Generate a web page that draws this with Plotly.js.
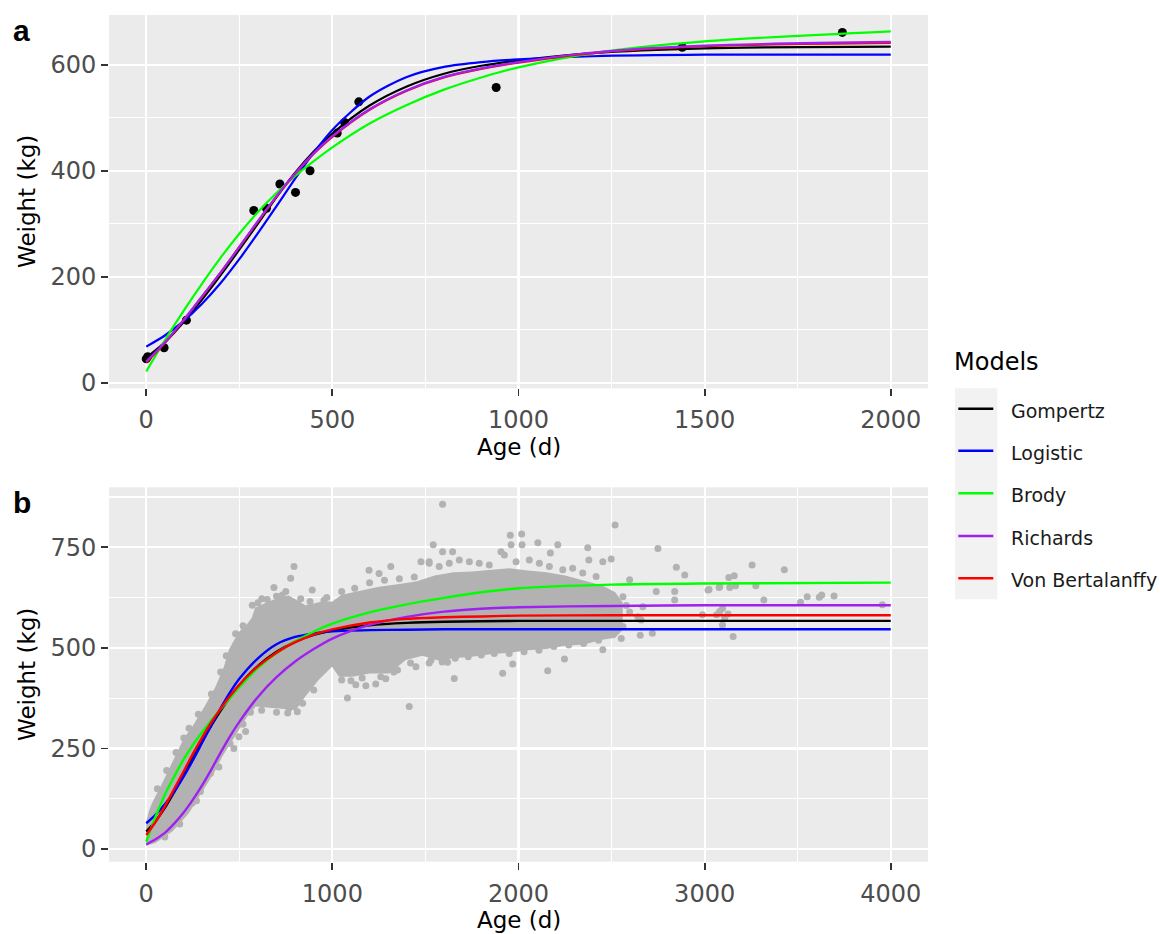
<!DOCTYPE html>
<html>
<head>
<meta charset="utf-8">
<script src="https://cdn.plot.ly/plotly-3.0.1.min.js"></script>
<style>html,body{margin:0;padding:0;background:#fff;}#chart{width:1160px;height:934px;}</style>
</head>
<body>
<div id="chart"></div>
<script>
// ---------------- DATA ----------------
const modelNames = ['Gompertz', 'Logistic', 'Brody', 'Richards', 'Von Bertalanffy'];
const modelColors = ['#000000', '#0000ff', '#00ff00', '#a020f0', '#ff0000'];
const drawOrder = [0, 1, 2, 4, 3];   // Richards drawn last so it sits on top of Von Bertalanffy

// Panel a: observed points
const obsAgeA = [0, 4, 48, 108, 289, 323, 359, 401, 440, 513, 533, 571, 940, 1440, 1870];
const obsWtA  = [45, 49, 66, 118, 325, 329, 375, 359, 400, 471, 491, 530, 557, 633, 661];

// Panel a: fitted curves
const ageA = [0, 50, 100, 150, 200, 250, 300, 350, 400, 450, 500, 600, 700, 800, 900, 1000, 1200, 1500, 2000];
const gompA  = [47, 76, 114, 157, 203, 251, 300, 350, 396, 436, 470, 523, 559, 583, 598, 608, 622, 631, 634];
const logA   = [68, 89, 116, 149, 188, 233, 282, 333, 385, 434, 477, 540, 577, 596, 605, 610, 616, 619, 619];
const brodyA = [21, 80, 135, 187, 236, 281, 322, 358, 390, 418, 444, 489, 524, 553, 576, 595, 622, 644, 663];
const richA  = [40, 76, 118, 163, 208, 256, 305, 352, 395, 433, 465, 516, 552, 577, 593, 605, 623, 636, 643];
const vbA    = [38, 75, 117, 162, 208, 256, 304, 351, 394, 432, 464, 515, 551, 576, 592, 604, 622, 635, 641];

// Panel b: fitted curves
const ageB = [0, 50, 100, 150, 200, 250, 300, 350, 400, 450, 500, 600, 700, 800, 900, 1000, 1200, 1400, 1600, 1800, 2000, 2500, 3000, 4000];
const gompB  = [43, 69, 102, 141, 182, 225, 267, 307, 344, 377, 407, 455, 490, 515, 532, 543, 556, 562, 565, 566, 567, 567, 567, 567];
const logB   = [64, 85, 111, 142, 179, 220, 264, 308, 350, 389, 423, 474, 509, 527, 536, 541, 544, 545, 546, 546, 546, 546, 546, 546];
const brodyB = [18, 80, 135, 180, 222, 258, 290, 320, 348, 375, 402, 450, 487, 516, 540, 560, 588, 608, 624, 638, 648, 657, 660, 662];
const richB  = [11, 24, 40, 63, 90, 122, 158, 198, 240, 280, 316, 378, 427, 466, 497, 523, 557, 577, 590, 597, 601, 604, 606, 606];
const vbB    = [35, 67, 106, 149, 192, 236, 277, 315, 349, 380, 408, 454, 488, 514, 533, 546, 563, 572, 576, 578, 580, 581, 581, 581];

// Panel b: outline of the dense mass of observations (age, weight)
const cloudAge = [0, 0, 15, 31, 85, 139, 175, 202, 247, 318, 372, 417, 444, 471, 495, 540, 567, 585, 630, 675, 720, 765, 810, 855, 900, 944, 1000, 1050, 1150, 1250, 1350, 1450, 1550, 1650, 1750, 1850, 1950, 2050, 2150, 2250, 2350, 2450, 2520, 2560,
  2560, 2520, 2450, 2350, 2250, 2150, 2050, 1950, 1850, 1750, 1650, 1573, 1484, 1395, 1305, 1200, 1108, 1036, 998, 970, 926, 855, 803, 740, 677, 630, 588, 543, 498, 408, 363, 318, 229, 139, 49, 0];
const cloudWt = [10, 68, 95, 114, 163, 213, 246, 275, 304, 358, 403, 453, 495, 520, 539, 558, 575, 600, 610, 618, 625, 630, 618, 606, 610, 615, 615, 632, 642, 652, 658, 665, 680, 688, 690, 694, 698, 692, 688, 680, 668, 655, 638, 612,
  545, 525, 520, 508, 505, 497, 494, 488, 484, 478, 474, 468, 480, 470, 436, 436, 428, 428, 453, 440, 420, 379, 345, 348, 350, 352, 354, 329, 296, 229, 188, 155, 89, 43, 15, 8];

// Panel b: individual observations outside / on the edge of the dense mass
const scatAge = [1592, 1542, 1592, 1646, 1956, 2017, 1960, 2019, 2104, 1906, 1924, 2171, 2211, 2372, 2378, 2519, 2749, 2498, 2453,
  2848, 2893, 2597, 2561, 2668, 2579, 2597, 2641, 2659, 2561, 2498, 2552, 2654, 2719, 2453, 2839, 2839, 2740, 3024, 3081,
  3255, 3428, 3130, 3159, 3018, 3078, 3135, 3166, 3275, 3318, 3515, 3551, 3616, 3629, 3695, 3955, 2988, 3064, 3096, 3081, 3126, 3096, 3153, 3108,
  1655, 1915, 1969, 2157, 2247, 1723, 1807, 1619,
  570, 621, 686, 731, 776, 794, 892, 955, 1197, 1251, 1314, 1476, 1520,
  1081, 1413, 1126, 1180, 1233, 1287, 1350, 1449, 812, 767,
  471, 498, 534, 390, 345, 291, 247, 193, 202,
  1520, 1574, 1628, 1682, 1736, 1789, 1843, 1987, 2058, 2112, 2166, 2238, 2291, 2345, 2417,
  1530, 1590, 1660, 1730, 1800, 1870, 1950, 2030, 2110, 2190, 2270, 2350, 2430,
  60, 110, 160, 230, 280, 350, 400, 430, 480, 520, 600, 650, 700, 750, 830, 880, 970,
  100, 180, 270, 450, 520, 560, 620, 700, 760, 840, 900,
  1050, 1100, 1160, 1260, 1330, 1420, 1520,
  1050, 1120, 1200, 1280, 1360, 1440];
const scatWt = [857, 756, 739, 739, 780, 783, 756, 756, 761, 739, 731, 736, 756, 749, 718, 805, 747, 721, 714,
  700, 681, 669, 627, 602, 605, 589, 577, 569, 553, 553, 523, 531, 536, 495, 619, 640, 640, 645, 652,
  706, 694, 675, 679, 644, 650, 650, 654, 654, 619, 613, 627, 626, 631, 629, 607, 582, 582, 598, 590, 584, 557, 528, 573,
  424, 437, 460, 443, 472, 485, 489, 464,
  606, 622, 650, 631, 673, 702, 644, 618, 693, 685, 702, 714, 714,
  375, 354, 408, 406, 410, 423, 445, 453, 341, 350,
  250, 279, 292, 204, 188, 143, 114, 85, 276,
  710, 702, 710, 718, 714, 710, 706, 714, 718, 710, 702, 694, 698, 686, 677,
  469, 465, 474, 478, 482, 486, 486, 490, 494, 503, 507, 511, 519,
  150, 195, 240, 300, 335, 385, 440, 480, 535, 555, 612, 620, 628, 640, 622, 615, 625,
  30, 62, 120, 262, 310, 340, 345, 340, 338, 362, 395,
  420, 418, 425, 428, 440, 462, 462,
  640, 648, 662, 668, 672, 676];

// Tick values
const xTicksA = [0, 500, 1000, 1500, 2000];
const yTicksA = [0, 200, 400, 600];
const xTicksB = [0, 1000, 2000, 3000, 4000];
const yTicksB = [0, 250, 500, 750];

// ---------------- LAYOUT HELPERS ----------------
const W = 1160, H = 934;
const fx = x => x / W;
const fy = y => 1 - y / H;

const TICKFONT = {family: 'DejaVu Sans', size: 24, color: '#4d4d4d'};
const TITLEFONT = {family: 'DejaVu Sans', size: 23, color: '#000000'};

function axis(extra) {
  return Object.assign({
    showgrid: true, gridcolor: '#ffffff', gridwidth: 2.2,
    zeroline: false, showline: false,
    ticks: 'outside', ticklen: 7, tickwidth: 1.8, tickcolor: '#333333',
    tickfont: TICKFONT, automargin: false, fixedrange: true,
    tickmode: 'array'
  }, extra);
}

const traces = [];

// Panel a points
traces.push({
  type: 'scatter', mode: 'markers', x: obsAgeA, y: obsWtA, xaxis: 'x', yaxis: 'y',
  marker: {color: '#000000', size: 9}, hoverinfo: 'skip', showlegend: false
});
const curvesA = [gompA, logA, brodyA, richA, vbA];
drawOrder.forEach(i => {
  traces.push({
    type: 'scatter', mode: 'lines', x: ageA, y: curvesA[i], xaxis: 'x', yaxis: 'y',
    line: {color: modelColors[i], width: 2.2, shape: 'spline', smoothing: 0.8},
    name: modelNames[i], hoverinfo: 'skip', showlegend: false
  });
});

// Panel b cloud
traces.push({
  type: 'scatter', mode: 'lines', x: cloudAge, y: cloudWt, xaxis: 'x2', yaxis: 'y2',
  fill: 'toself', fillcolor: '#b2b2b2', line: {width: 0, color: '#b2b2b2'},
  hoverinfo: 'skip', showlegend: false
});
traces.push({
  type: 'scatter', mode: 'markers', x: scatAge, y: scatWt, xaxis: 'x2', yaxis: 'y2',
  marker: {color: '#b2b2b2', size: 7}, hoverinfo: 'skip', showlegend: false
});
const curvesB = [gompB, logB, brodyB, richB, vbB];
[0, 1, 2, 3, 4].forEach(i => {
  traces.push({
    type: 'scatter', mode: 'lines', x: ageB, y: curvesB[i], xaxis: 'x2', yaxis: 'y2',
    line: {color: modelColors[i], width: 2.4, shape: 'spline', smoothing: 0.8},
    name: modelNames[i], hoverinfo: 'skip', showlegend: false
  });
});

// Annotations
const annotations = [
  {text: '<b>a</b>', x: fx(10.5), xanchor: 'left', y: fy(30.3), yanchor: 'middle',
   font: {family: 'Liberation Sans', size: 30, color: '#000'}},
  {text: '<b>b</b>', x: fx(10.5), xanchor: 'left', y: fy(502.9), yanchor: 'middle',
   font: {family: 'Liberation Sans', size: 30, color: '#000'}},
  {text: 'Weight (kg)', x: fx(27), xanchor: 'center', y: fy(202), yanchor: 'middle', textangle: -90, font: TITLEFONT},
  {text: 'Weight (kg)', x: fx(27), xanchor: 'center', y: fy(675), yanchor: 'middle', textangle: -90, font: TITLEFONT},
  {text: 'Age (d)', x: fx(518.5), xanchor: 'center', y: fy(446.7), yanchor: 'middle', font: TITLEFONT},
  {text: 'Age (d)', x: fx(518.5), xanchor: 'center', y: fy(919.7), yanchor: 'middle', font: TITLEFONT},
  {text: 'Models', x: fx(952), xanchor: 'left', y: fy(362.4), yanchor: 'middle',
   font: {family: 'DejaVu Sans', size: 24, color: '#000'}}
].map(a => Object.assign({xref: 'paper', yref: 'paper', showarrow: false}, a));

const legendY = [408.7, 450.7, 493.3, 536, 578.3];
const shapes = [
  {type: 'rect', xref: 'paper', yref: 'paper', x0: fx(955), x1: fx(997.3), y0: fy(599.3), y1: fy(388.3),
   fillcolor: '#f2f2f2', line: {width: 0}, layer: 'below'}
];
modelNames.forEach((nm, i) => {
  shapes.push({type: 'line', xref: 'paper', yref: 'paper', x0: fx(958.3), x1: fx(993.3),
    y0: fy(legendY[i]), y1: fy(legendY[i]), line: {color: modelColors[i], width: 2.6}});
  annotations.push({xref: 'paper', yref: 'paper', showarrow: false, text: nm,
    x: fx(1009), xanchor: 'left', y: fy(legendY[i] + 2), yanchor: 'middle',
    font: {family: 'DejaVu Sans', size: 19, color: '#1a1a1a'}});
});

const layout = {
  width: W, height: H,
  margin: {l: 0, r: 0, t: 0, b: 0},
  paper_bgcolor: '#ffffff', plot_bgcolor: '#ebebeb',
  showlegend: false, hovermode: false,
  xaxis: axis({domain: [fx(109), fx(928)], range: [-100, 2100], anchor: 'y',
    tickvals: xTicksA, ticktext: xTicksA.map(String), ticklabelstandoff: 3,
    minor: {tickmode: 'array', tickvals: [250, 750, 1250, 1750], showgrid: true, gridcolor: '#ffffff', gridwidth: 1.1, ticks: ''}}),
  yaxis: axis({domain: [fy(388.3), fy(15)], range: [-10.6, 693.8], anchor: 'x',
    tickvals: yTicksA, ticktext: yTicksA.map(String),
    minor: {tickmode: 'array', tickvals: [100, 300, 500], showgrid: true, gridcolor: '#ffffff', gridwidth: 1.1, ticks: ''}}),
  xaxis2: axis({domain: [fx(109), fx(928)], range: [-200, 4200], anchor: 'y2',
    tickvals: xTicksB, ticktext: xTicksB.map(String), ticklabelstandoff: 3,
    minor: {tickmode: 'array', tickvals: [500, 1500, 2500, 3500], showgrid: true, gridcolor: '#ffffff', gridwidth: 1.1, ticks: ''}}),
  yaxis2: axis({domain: [fy(861.7), fy(487.3)], range: [-31.6, 899], anchor: 'x2',
    tickvals: yTicksB, ticktext: yTicksB.map(String),
    minor: {tickmode: 'array', tickvals: [125, 375, 625, 875], showgrid: true, gridcolor: '#ffffff', gridwidth: 1.1, ticks: ''}}),
  annotations: annotations,
  shapes: shapes
};

Plotly.newPlot('chart', traces, layout, {displayModeBar: false, staticPlot: true});
</script>
</body>
</html>
